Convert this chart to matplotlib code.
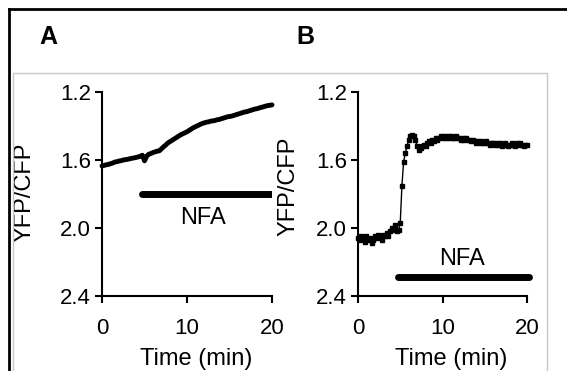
import numpy as np
import matplotlib

matplotlib.use("Agg")
import matplotlib.pyplot as plt  # noqa: E402
from matplotlib.lines import Line2D  # noqa: E402

plt.rcParams["font.family"] = ["Liberation Sans", "DejaVu Sans"]

# panel A: slow drift, sampled every 0.25 min
time_a = np.arange(0, 20.01, 0.25)
ratio_a = [
    1.635, 1.632, 1.628, 1.626, 1.622, 1.618, 1.612, 1.610, 1.606, 1.604,
    1.600, 1.598, 1.596, 1.593, 1.590, 1.588, 1.585, 1.582, 1.578, 1.572,
    1.605, 1.578, 1.566, 1.562, 1.556, 1.552, 1.548, 1.546, 1.534, 1.522,
    1.512, 1.500, 1.492, 1.484, 1.476, 1.468, 1.460, 1.452, 1.446, 1.440,
    1.434, 1.426, 1.418, 1.410, 1.404, 1.398, 1.392, 1.386, 1.382, 1.378,
    1.376, 1.372, 1.370, 1.368, 1.364, 1.362, 1.358, 1.354, 1.350, 1.346,
    1.344, 1.342, 1.338, 1.334, 1.330, 1.326, 1.322, 1.318, 1.316, 1.312,
    1.308, 1.304, 1.300, 1.298, 1.294, 1.290, 1.287, 1.283, 1.280, 1.278,
    1.276,
]

# panel B: step response, sampled every 0.2 min
time_b = np.arange(0, 20.01, 0.2)
ratio_b = [
    2.06, 2.07, 2.05, 2.06, 2.08, 2.05, 2.07, 2.06, 2.09, 2.07,
    2.05, 2.06, 2.04, 2.05, 2.07, 2.04, 2.05, 2.03, 2.05, 2.02,
    2.00, 2.01, 1.98, 2.02, 2.01, 1.97, 1.75, 1.61, 1.56, 1.52,
    1.48, 1.46, 1.45, 1.46, 1.48, 1.52, 1.54, 1.53, 1.52, 1.51,
    1.52, 1.50, 1.49, 1.50, 1.48, 1.49, 1.47, 1.48, 1.47, 1.46,
    1.47, 1.46, 1.47, 1.46, 1.47, 1.46, 1.47, 1.47, 1.46, 1.47,
    1.47, 1.48, 1.47, 1.48, 1.47, 1.48, 1.48, 1.49, 1.48, 1.49,
    1.50, 1.49, 1.50, 1.49, 1.50, 1.50, 1.49, 1.50, 1.51, 1.50,
    1.50, 1.51, 1.50, 1.51, 1.50, 1.52, 1.51, 1.50, 1.51, 1.52,
    1.51, 1.50, 1.51, 1.52, 1.50, 1.51, 1.50, 1.51, 1.52, 1.51,
    1.51,
]

# NFA application (start, end, bar level, label level)
nfa_a = (4.7, 20.0, 1.80, 1.94)
nfa_b = (4.7, 20.2, 2.29, 2.18)

y_ticks = [1.2, 1.6, 2.0, 2.4]
x_ticks = [0, 10, 20]

fig = plt.figure(figsize=(5.67, 3.71), dpi=100)
W, H = 567, 371

# outer black frame + light grey inner box
fig.add_artist(Line2D([9 / W, 9 / W], [0, 1 - 9 / H], color="black", lw=2))
fig.add_artist(Line2D([9 / W, 1], [1 - 9 / H, 1 - 9 / H], color="black", lw=2))
fig.add_artist(Line2D([13 / W, 13 / W, 547 / W, 547 / W],
                      [0, 1 - 73 / H, 1 - 73 / H, 0], color="#c8c8c8", lw=1))

ax_a = fig.add_axes([102 / W, 1 - 296 / H, 170 / W, 204 / H])
ax_b = fig.add_axes([358 / W, 1 - 296 / H, 169 / W, 204 / H])


def style(ax):
    ax.set_xlim(0, 20)
    ax.set_ylim(2.4, 1.2)
    ax.set_xticks(x_ticks)
    ax.set_yticks(y_ticks)
    ax.set_yticklabels([f"{v:.1f}" for v in y_ticks])
    ax.spines["top"].set_visible(False)
    ax.spines["right"].set_visible(False)
    for s in ("left", "bottom"):
        ax.spines[s].set_linewidth(1.5)
    ax.tick_params(direction="out", length=5, width=1.5, labelsize=16)
    ax.tick_params(axis="x", pad=11)
    ax.tick_params(axis="y", pad=3)
    ax.set_xlabel("Time (min)", fontsize=17)
    ax.xaxis.set_label_coords(0.553, -0.255)
    ax.set_ylabel("YFP/CFP", fontsize=17)


style(ax_a)
ax_a.plot(time_a, ratio_a, color="black", lw=3.5, solid_capstyle="round", clip_on=False)
ax_a.plot([nfa_a[0], nfa_a[1]], [nfa_a[2]] * 2, color="black", lw=5, solid_capstyle="round")
ax_a.text((nfa_a[0] + nfa_a[1]) / 2 - 0.5, nfa_a[3], "NFA", fontsize=17, ha="center", va="center")
ax_a.yaxis.set_label_coords(-0.39, 0.51)

style(ax_b)
ax_b.plot(time_b, ratio_b, color="black", lw=1, marker="s", ms=2.3, clip_on=False)
ax_b.plot([nfa_b[0], nfa_b[1]], [nfa_b[2]] * 2, color="black", lw=5, solid_capstyle="round", clip_on=False)
ax_b.text((nfa_b[0] + nfa_b[1]) / 2 - 0.2, nfa_b[3], "NFA", fontsize=17, ha="center", va="center")
ax_b.yaxis.set_label_coords(-0.345, 0.54)

fig.text(48 / W, 1 - 37 / H, "A", fontsize=18, fontweight="bold", ha="center", va="center")
fig.text(305 / W, 1 - 37 / H, "B", fontsize=18, fontweight="bold", ha="center", va="center")

fig.savefig("out.png", dpi=100)
